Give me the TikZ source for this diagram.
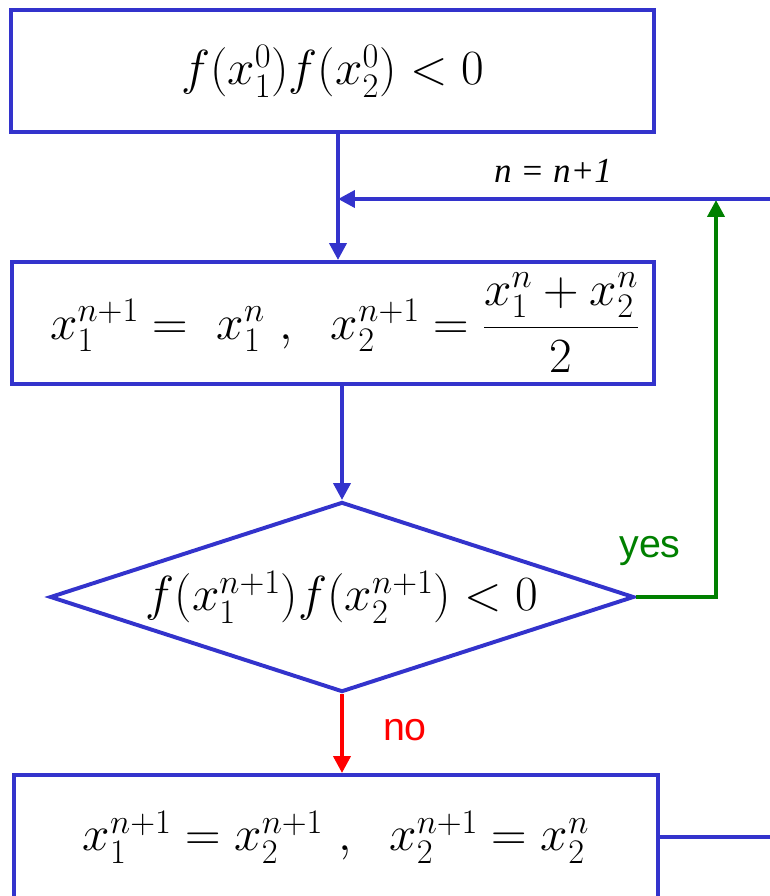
\documentclass[tikz,border=0pt]{standalone}
\usepackage{fix-cm}
\usepackage{fontspec}
\usetikzlibrary{arrows.meta,shapes.geometric}
\newfontfamily\labelfont{Liberation Sans}
\newfontfamily\incrfont{Liberation Serif Italic}
\definecolor{flowblue}{RGB}{51,51,204}
\definecolor{yesgreen}{RGB}{0,128,0}
\definecolor{nored}{RGB}{255,0,0}

\begin{document}
\begin{tikzpicture}[x=0.025cm, y=-0.025cm,
  box/.style={draw=flowblue, line width=2.8pt, minimum width=16.05cm, minimum height=3.05cm, inner sep=0pt, font=\fontsize{35}{42}\selectfont},
  test/.style={draw=flowblue, line width=2.8pt, diamond, aspect=3.07, minimum width=14.6cm, minimum height=4.75cm, inner sep=0pt, font=\fontsize{35}{42}\selectfont},
  flow/.style={flowblue, line width=2.8pt, -{Triangle[length=12pt,width=12pt]}},
  answer/.style={font=\labelfont\fontsize{28}{32}\selectfont, anchor=base}]
\useasboundingbox (0,0) rectangle (770,896);

% boxes and the test
\node[box] (start) at (332.5,71) {$f(x_1^0)f(x_2^0)<0$};
\node[box] (halve) at (333,323) {\hspace{0.6cm}$x_1^{n+1} = \ x_1^n\ ,\ \ x_2^{n+1} = {\displaystyle\frac{x_1^n + x_2^n}{2}}$};
\node[test] (check) at (342,597) {$f(x_1^{n+1})f(x_2^{n+1})<0$};
\node[box, minimum width=16.1cm, minimum height=3.1cm] (swap) at (336,837) {$x_1^{n+1} = x_2^{n+1}\ ,\ \ x_2^{n+1} = x_2^n$};

% loop points
\coordinate (join) at (338,199);
\coordinate (loopTR) at (780,199);
\coordinate (loopBR) at (780,837);
\coordinate (yesTop) at (716,200);

% connectors
\draw[flow] (start.south -| join) -- (halve.north -| join);
\draw[flow] (halve.south -| check.north) -- (check.north);
\draw[flow, nored] (check.south) -- (check.south |- swap.north);
\draw[flow, yesgreen] (check.east) -| (yesTop);
\draw[flow] (swap.east) -- (loopBR) -- (loopTR) -- (join);

% labels
\node[anchor=base] (incr) at (553,182) {\incrfont\fontsize{25}{30}\selectfont n = n+1};
\node[answer, yesgreen] (yes) at (650,557) {yes};
\node[answer, nored] (no) at (405,740) {no};
\end{tikzpicture}
\end{document}
